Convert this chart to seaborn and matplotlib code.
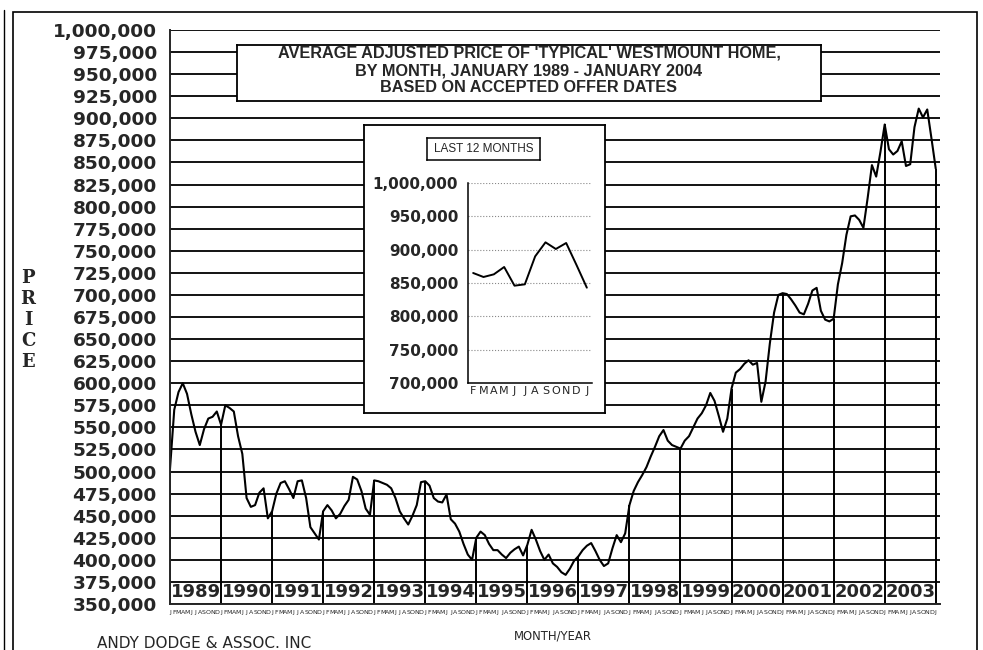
import numpy as np
import pandas as pd
import seaborn as sns
import matplotlib.pyplot as plt
from matplotlib.patches import Rectangle

# monthly average adjusted price, Jan 1989 .. Jan 2004, in $000
prices = [
    503, 570, 590, 600, 588, 565, 545, 530, 548, 560, 562, 568,   # 1989
    553, 575, 572, 568, 540, 520, 470, 460, 462, 476, 481, 447,   # 1990
    455, 475, 487, 489, 480, 470, 489, 490, 470, 437, 430, 423,   # 1991
    455, 462, 456, 447, 452, 461, 468, 494, 491, 478, 458, 451,   # 1992
    490, 489, 487, 485, 481, 470, 455, 447, 440, 450, 462, 488,   # 1993
    489, 484, 470, 466, 465, 474, 446, 441, 432, 418, 406, 400,   # 1994
    425, 432, 428, 418, 411, 411, 406, 402, 408, 412, 415, 405,   # 1995
    417, 434, 423, 410, 400, 406, 396, 392, 386, 383, 390, 399,   # 1996
    404, 411, 416, 419, 410, 400, 393, 396, 413, 428, 420, 430,   # 1997
    462, 478, 488, 496, 505, 517, 528, 540, 547, 535, 530, 528,   # 1998
    526, 535, 540, 550, 560, 566, 575, 589, 580, 563, 545, 560,   # 1999
    594, 612, 616, 622, 626, 621, 623, 579, 602, 645, 680, 700,   # 2000
    702, 701, 695, 688, 680, 678, 690, 705, 708, 682, 672, 670,   # 2001
    673, 712, 736, 768, 789, 790, 785, 776, 810, 847, 834, 862,   # 2002
    893, 865, 859, 863, 874, 846, 848, 890, 911, 901, 910, 877,   # 2003
    843,                                                          # Jan 2004
]
years = list(range(1989, 2004))
month_letters = list("JFMAMJJASOND")
inset_labels = ["F", "M", "A", "M", "J", "J", "A", "S", "O", "N", "D", "J"]

title_lines = [
    "AVERAGE ADJUSTED PRICE OF 'TYPICAL' WESTMOUNT HOME,",
    "BY MONTH, JANUARY 1989 - JANUARY 2004",
    "BASED ON ACCEPTED OFFER DATES",
]

sns.set_style("white")
plt.rcParams["font.family"] = ["DejaVu Sans"]

W, H = 983, 650


def px(l, t, r, b):
    # pixel box -> figure fraction
    return [l / W, 1 - b / H, (r - l) / W, (b - t) / H]


df = pd.DataFrame({"month": np.arange(len(prices)), "price": np.array(prices) * 1000})
df["letter"] = [month_letters[m % 12] for m in df["month"]]

fig = plt.figure(figsize=(W / 100, H / 100), dpi=100)

# main chart
ax = fig.add_axes(px(170, 30, 940, 604))
sns.lineplot(data=df, x="month", y="price", color="black", lw=1.5, ax=ax)
ax.set_xlim(0, 181)
ax.set_ylim(350000, 1000000)
yt = np.arange(350000, 1000001, 25000)
ax.set_yticks(yt, [f"{v:,}" for v in yt])
ax.tick_params(axis="y", length=0, pad=9.5, labelsize=13.3)
for lab in ax.get_yticklabels():
    lab.set_fontweight("bold")
ax.grid(axis="y", color="black", lw=1.3)
ax.set_axisbelow(True)
ax.set_xticks(df["month"], df["letter"])
ax.tick_params(axis="x", direction="inout", length=6, width=0.8, labelsize=4.5, pad=1)
for s in ["top", "right"]:
    ax.spines[s].set_visible(False)
for s in ["left", "bottom"]:
    ax.spines[s].set_linewidth(1.4)
ax.set_xlabel("")
ax.set_ylabel("")

jan = df[df["month"] % 12 == 0]
ax.vlines(jan["month"], 350000, jan["price"], color="black", lw=1.4)
for i, yr in enumerate(years):
    ax.text(12 * i + 6, 364000, str(yr), ha="center", va="center",
            fontsize=13, fontweight="bold")

# title box
tb = fig.add_axes(px(237, 45, 821, 101))
tb.set_xticks([])
tb.set_yticks([])
tb.set_facecolor("white")
for s in tb.spines.values():
    s.set_linewidth(1.3)
    s.set_color("black")
for y, line in zip([53, 71, 88], title_lines):
    fig.text(529 / W, 1 - y / H, line, ha="center", va="center",
             fontsize=11.7, fontweight="bold", family="Liberation Sans")

# inset panel
pa = fig.add_axes(px(364, 125, 605, 413))
pa.set_xticks([])
pa.set_yticks([])
pa.set_facecolor("white")
for s in pa.spines.values():
    s.set_linewidth(1.3)
    s.set_color("black")

lb = fig.add_axes(px(427, 138, 540, 160))
lb.set_xticks([])
lb.set_yticks([])
for s in lb.spines.values():
    s.set_linewidth(1.1)
    s.set_color("black")
lb.text(0.5, 0.5, "LAST 12 MONTHS", ha="center", va="center", fontsize=8.5,
        family="Liberation Sans", transform=lb.transAxes)

last = df.tail(12).copy()
last["pos"] = np.arange(12)
ia = fig.add_axes(px(468, 183, 592, 383))
ia.set_facecolor("none")
sns.lineplot(data=last, x="pos", y="price", color="black", lw=1.4, ax=ia)
ia.set_xlim(-0.5, 11.5)
ia.set_ylim(700000, 1000000)
it = np.arange(700000, 1000001, 50000)
ia.set_yticks(it, [f"{v:,}" for v in it])
ia.tick_params(axis="y", direction="out", length=5, width=0.8, labelsize=11, pad=2)
for lab in ia.get_yticklabels():
    lab.set_fontweight("bold")
ia.set_xticks(last["pos"], inset_labels)
ia.tick_params(axis="x", direction="in", length=4, width=0.8, labelsize=8, pad=2)
ia.grid(axis="y", color="#888888", lw=0.8, ls=":")
for s in ["top", "right"]:
    ia.spines[s].set_visible(False)
for s in ["left", "bottom"]:
    ia.spines[s].set_linewidth(1.1)
    ia.spines[s].set_color("black")
ia.set_xlabel("")
ia.set_ylabel("")

# side and bottom texts
fig.text(28 / W, 1 - 320 / H, "P\nR\nI\nC\nE", ha="center", va="center",
         fontsize=13, fontweight="bold", family="DejaVu Serif", linespacing=1.2)
fig.text(553 / W, 1 - 636 / H, "MONTH/YEAR", ha="center", va="center", fontsize=8.4)
fig.text(97 / W, 1 - 643 / H, "ANDY DODGE & ASSOC. INC", ha="left", va="center", fontsize=11)

# outer frame
fig.add_artist(Rectangle((13 / W, -0.05), 964 / W, 1.05 - 12 / H, transform=fig.transFigure,
                         fill=False, edgecolor="black", lw=1.2, clip_on=False))
fig.add_artist(plt.Line2D([4 / W, 4 / W], [0, 1 - 10 / H], transform=fig.transFigure,
                          color="black", lw=1.0))

fig.savefig("out.png", dpi=100)
